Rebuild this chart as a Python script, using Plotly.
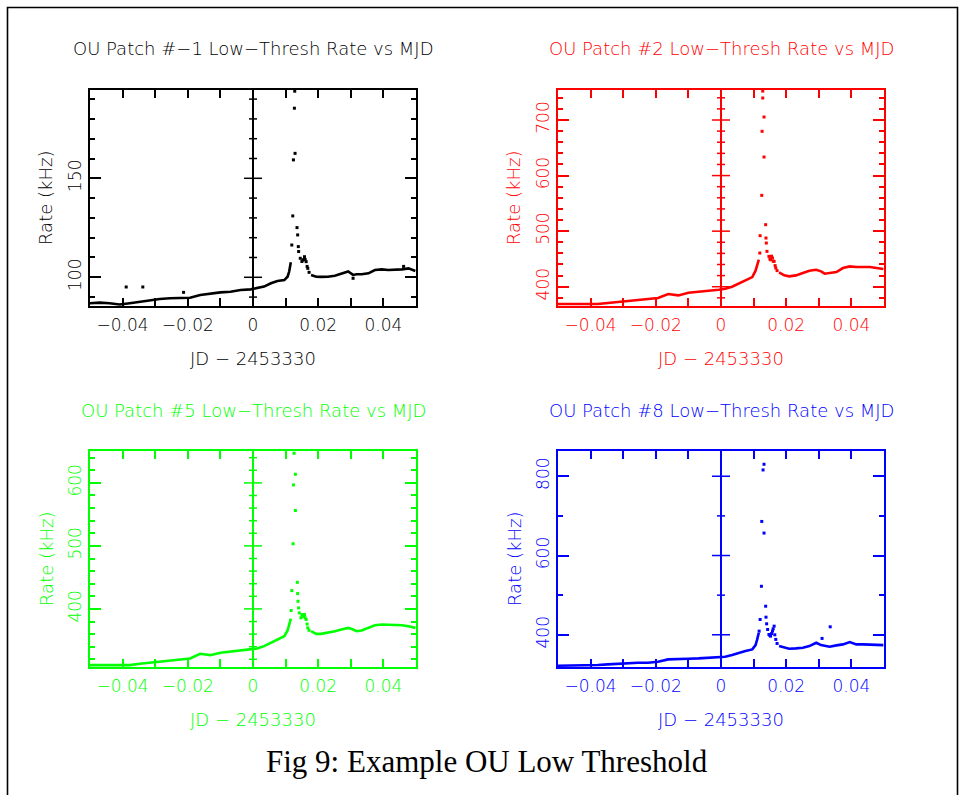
import plotly.graph_objects as go

W, H = 960, 795

# ---------------- data (JD - 2453330 in days, rate in kHz) ----------------
pre_x = [-0.0502, -0.0471, -0.0440, -0.0409, -0.0378, -0.0347, -0.0316, -0.0286, -0.0255,
         -0.0224, -0.0193, -0.0162, -0.0131, -0.0100, -0.0069, -0.0038, -0.0007, 0.0013,
         0.0034, 0.0055, 0.0075, 0.0096, 0.0106, 0.0111, 0.0116]
post_x = [0.0178, 0.0194, 0.0209, 0.0230, 0.0251, 0.0271, 0.0292, 0.0307, 0.0318, 0.0333,
          0.0354, 0.0374, 0.0395, 0.0415, 0.0436, 0.0457, 0.0477, 0.0498]

p1_pre_y = [86.9, 87.2, 86.9, 86.3, 86.9, 87.7, 88.5, 89.0, 89.4, 89.4, 89.7, 91.1, 91.9,
            92.4, 92.7, 93.6, 93.9, 94.4, 95.3, 97.0, 98.1, 98.6, 100.3, 102.9, 107.6]
p1_post_y = [101.2, 100.3, 100.2, 100.3, 100.8, 101.8, 102.9, 101.2, 101.5, 101.5, 102.0,
             103.7, 104.0, 103.7, 103.7, 104.0, 104.5, 103.2]
p1_spike_x = [0.0119, 0.0122, 0.0124, 0.0129, 0.0127, 0.0128, 0.0135, 0.0137, 0.0139, 0.0140,
              0.0145, 0.0150, 0.0153, 0.0156, 0.0158, 0.0160, 0.0163, 0.0166, 0.0168, 0.0172,
              -0.0389, -0.0338, -0.0213, 0.0307, 0.0462]
p1_spike_y = [116.3, 131.0, 159.3, 162.6, 185.4, 194.0, 125.1, 121.4, 115.5, 113.0,
              109.6, 108.0, 108.7, 109.0, 110.4, 109.0, 107.9, 105.5, 104.5, 102.5,
              95.1, 95.1, 92.4, 99.5, 105.5]

p2_pre_y = [368.8, 368.8, 368.8, 368.8, 368.8, 370.6, 372.4, 373.6, 376.0, 378.4, 379.6,
            386.8, 384.4, 389.2, 390.4, 392.8, 394.6, 396.4, 400.0, 405.4, 410.8, 417.4,
            428.8, 438.4, 448.6]
p2_post_y = [425.8, 420.4, 418.6, 420.4, 424.6, 428.8, 430.6, 427.6, 423.4, 424.6, 426.4,
             433.6, 436.6, 435.4, 435.4, 435.4, 433.6, 431.8]
p2_spike_x = [0.0128, 0.0132, 0.0126, 0.0132, 0.0125, 0.0137, 0.0120, 0.0138, 0.0139, 0.0119,
              0.0141, 0.0147, 0.0150, 0.0152, 0.0155, 0.0158, 0.0160, 0.0163, 0.0166, 0.0168,
              0.0172, 0.0128]
p2_spike_y = [739.6, 705.4, 679.6, 633.4, 564.4, 511.6, 491.8, 487.6, 478.6, 460.6,
              463.6, 454.6, 450.0, 448.6, 455.0, 451.6, 446.0, 445.6, 438.0, 433.6,
              429.0, 752.0]

p3_pre_y = [310.8, 310.8, 310.8, 311.9, 310.8, 312.9, 314.5, 316.1, 318.7, 319.8, 321.4,
            328.8, 326.6, 330.3, 331.9, 334.0, 335.6, 337.2, 340.9, 346.2, 351.5, 356.7,
            365.7, 375.2, 384.7]
p3_post_y = [364.6, 360.4, 360.4, 362.0, 364.6, 367.3, 369.9, 367.3, 364.6, 365.7, 369.9,
             374.1, 375.2, 375.2, 375.2, 374.1, 372.6, 369.9]
p3_spike_x = [0.0126, 0.0130, 0.0124, 0.0130, 0.0123, 0.0136, 0.0119, 0.0137, 0.0138, 0.0117,
              0.0140, 0.0142, 0.0147, 0.0150, 0.0152, 0.0155, 0.0158, 0.0160, 0.0163, 0.0166,
              0.0168, 0.0172]
p3_spike_y = [647.0, 613.7, 596.8, 556.2, 503.4, 442.2, 429.0, 424.3, 412.1, 397.4,
              401.6, 393.7, 385.8, 390.0, 391.0, 388.0, 391.0, 386.0, 383.1, 376.0,
              369.9, 366.0]

p4_pre_y = [322.0, 322.0, 322.0, 323.7, 323.7, 325.4, 327.0, 327.0, 329.6, 329.6, 332.1,
            337.9, 337.9, 339.6, 340.5, 342.1, 343.8, 344.7, 348.8, 354.7, 358.9, 363.1,
            374.0, 388.3, 405.0]
p4_post_y = [371.5, 367.3, 364.8, 365.6, 367.3, 371.5, 379.9, 374.0, 371.5, 369.8, 373.2,
             375.7, 381.6, 375.7, 375.7, 375.7, 375.7, 374.0]
p4_spike_x = [0.0132, 0.0129, 0.0125, 0.0132, 0.0124, 0.0137, 0.0120, 0.0138, 0.0140, 0.0117,
              0.0143, 0.0147, 0.0150, 0.0152, 0.0155, 0.0158, 0.0160, 0.0163, 0.0165, 0.0168,
              0.0172, 0.0310, 0.0335]
p4_spike_y = [830.2, 815.9, 686.0, 656.6, 522.4, 472.1, 438.6, 444.4, 427.7, 409.2,
              413.4, 400.8, 398.0, 396.6, 403.0, 409.2, 415.0, 421.8, 400.0, 388.3,
              378.0, 390.8, 420.1]

titles = ["OU Patch #\u22121 Low\u2212Thresh Rate vs MJD",
          "OU Patch #2 Low\u2212Thresh Rate vs MJD",
          "OU Patch #5 Low\u2212Thresh Rate vs MJD",
          "OU Patch #8 Low\u2212Thresh Rate vs MJD"]
x_title = "JD \u2212 2453330"
y_title = "Rate (kHz)"
x_tick_vals = [-0.04, -0.02, 0, 0.02, 0.04]
x_tick_text = ["\u22120.04", "\u22120.02", "0", "0.02", "0.04"]
caption = "Fig 9: Example OU Low Threshold"

# --------------------------- layout settings ---------------------------
colors = ["#000000", "#ff0000", "#00ff00", "#0000ff"]
y_ranges = [[85.5, 194.6], [365.3, 754.0], [307.8, 650.6], [318.7, 863.7]]
y_major = [50, 100, 100, 200]
y_minor = [10, 20, 20, 100]
# panel boxes in pixels: (left, right, top, bottom)
boxes = [(90, 416, 90, 306), (558, 884, 90, 306), (90, 416, 451, 667), (558, 884, 451, 667)]

panels = [
    (p1_pre_y, p1_post_y, p1_spike_x, p1_spike_y),
    (p2_pre_y, p2_post_y, p2_spike_x, p2_spike_y),
    (p3_pre_y, p3_post_y, p3_spike_x, p3_spike_y),
    (p4_pre_y, p4_post_y, p4_spike_x, p4_spike_y),
]

FONT = "DejaVu Sans"
fig = go.Figure()
layout = dict(width=W, height=H, autosize=False, margin=dict(l=0, r=0, t=0, b=0),
              paper_bgcolor="white", plot_bgcolor="white", showlegend=False,
              annotations=[], shapes=[])

for i, (pre_y, post_y, sx, sy) in enumerate(panels):
    c = colors[i]
    n = "" if i == 0 else str(i + 1)
    xa, ya = "x" + n, "y" + n
    base_x = pre_x + [None] + post_x
    base_y = pre_y + [None] + post_y
    fig.add_trace(go.Scatter(x=base_x, y=base_y, mode="lines", xaxis=xa, yaxis=ya,
                             line=dict(color=c, width=2.6), connectgaps=False, hoverinfo="skip"))
    fig.add_trace(go.Scatter(x=sx, y=sy, mode="markers", xaxis=xa, yaxis=ya,
                             marker=dict(color=c, size=3, symbol="square", line=dict(width=0))))
    l, r, t, b = boxes[i]
    xd = [l / W, r / W]
    yd = [1 - b / H, 1 - t / H]
    tf = dict(family=FONT, size=17, color=c, weight=200)
    layout["xaxis" + n] = dict(
        domain=xd, range=[-0.05, 0.05], anchor=ya, showgrid=False,
        showline=True, linecolor=c, linewidth=1.5, mirror="allticks",
        ticks="inside", ticklen=8, tickwidth=1.5, tickcolor=c,
        tickvals=x_tick_vals, ticktext=x_tick_text, tickfont=tf, ticklabelstandoff=3,
        minor=dict(ticks="inside", dtick=0.01, tick0=0, ticklen=8, tickwidth=1.5, tickcolor=c),
        zeroline=True, zerolinecolor=c, zerolinewidth=1.5, fixedrange=True)
    layout["yaxis" + n] = dict(
        domain=yd, range=y_ranges[i], anchor=xa, showgrid=False,
        showline=True, linecolor=c, linewidth=1.5, mirror="allticks",
        ticks="inside", ticklen=11, tickwidth=1.5, tickcolor=c,
        dtick=y_major[i], tick0=0, tickangle=-90, tickfont=tf, ticklabelstandoff=0,
        minor=dict(ticks="inside", dtick=y_minor[i], tick0=0, ticklen=5, tickwidth=1.5, tickcolor=c),
        zeroline=False, fixedrange=True)
    # ticks crossing the x = 0 axis line
    lo, hi = y_ranges[i]
    v = 0.0
    while v <= hi:
        if v >= lo:
            major = abs(v / y_major[i] - round(v / y_major[i])) < 1e-9
            half = 9 if major else 4
            layout["shapes"].append(dict(type="line", xref=xa, yref=ya, xsizemode="pixel",
                                         xanchor=0, x0=-half, x1=half, y0=v, y1=v,
                                         line=dict(color=c, width=1.5)))
        v += y_minor[i]
    cx = (l + r) / 2 / W
    # panel title
    layout["annotations"].append(dict(text=titles[i], xref="paper", yref="paper", x=cx,
                                      y=1 - (t - 41) / H, xanchor="center", yanchor="middle",
                                      showarrow=False, font=dict(family=FONT, size=18, color=c, weight=200)))
    # x axis title
    layout["annotations"].append(dict(text=x_title, xref="paper", yref="paper", x=cx,
                                      y=1 - (b + 52) / H, xanchor="center", yanchor="middle",
                                      showarrow=False, font=dict(family=FONT, size=18, color=c, weight=200)))
    # y axis title
    layout["annotations"].append(dict(text=y_title, xref="paper", yref="paper", x=(l - 44) / W,
                                      y=1 - (t + b) / 2 / H, xanchor="center", yanchor="middle",
                                      textangle=-90, showarrow=False,
                                      font=dict(family=FONT, size=18, color=c, weight=200)))

layout["annotations"].append(dict(text=caption, xref="paper", yref="paper", x=487 / W,
                                  y=1 - 761 / H, xanchor="center", yanchor="middle", showarrow=False,
                                  font=dict(family="Liberation Serif", size=31, color="black")))
layout["shapes"].append(dict(type="rect", xref="paper", yref="paper", x0=7.5 / W, x1=957.5 / W,
                             y0=-0.1, y1=1 - 7.5 / H, line=dict(color="black", width=1.6),
                             fillcolor="rgba(0,0,0,0)", layer="below"))

fig.update_layout(**layout)
fig.write_html("out.html")
